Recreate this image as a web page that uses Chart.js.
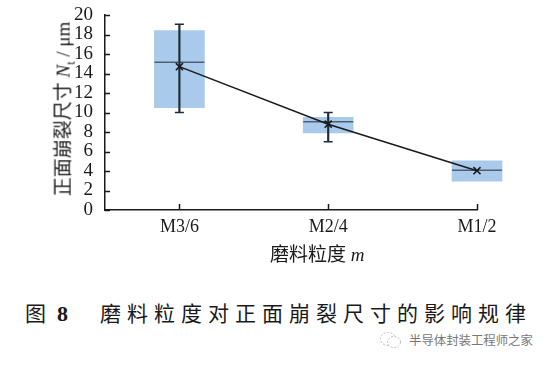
<!DOCTYPE html>
<html>
<head>
<meta charset="utf-8">
<script src="https://cdn.jsdelivr.net/npm/chart.js@4.4.1/dist/chart.umd.min.js"></script>
<style>
  body { margin: 0; background: #fff; width: 556px; height: 370px; position: relative; overflow: hidden; }
  .serif { font-family: "Liberation Serif", "Noto Sans CJK SC", serif; color: #1a1a1a; }
  #ytitle { position: absolute; left: 63px; top: 109px; transform: translate(-50%, -50%) rotate(-90deg);
            white-space: nowrap; font-size: 19px; }
  #xtitle { position: absolute; left: 270px; top: 239px; white-space: nowrap; font-size: 19px; }
  #caption { position: absolute; left: 25px; top: 297px; white-space: nowrap; font-size: 21px; }
  #caption .txt { letter-spacing: 6px; }
  #mark { position: absolute; left: 379px; top: 331px; white-space: nowrap; font-family: "Noto Sans CJK SC", sans-serif;
          font-size: 12.4px; color: #777; display: flex; align-items: center; }
</style>
</head>
<body>
<canvas id="chart" width="556" height="275" style="position:absolute;left:0;top:0"></canvas>
<div id="ytitle" class="serif">正面崩裂尺寸 <i>N</i><sub style="font-size:12px">t</sub> / μm</div>
<div id="xtitle" class="serif">磨料粒度 <i>m</i></div>
<div id="caption" class="serif"><span>图</span><span style="display:inline-block;width:11px"></span><b style="font-size:22px">8</b><span style="display:inline-block;width:32px"></span><span class="txt">磨料粒度对正面崩裂尺寸的影响规律</span></div>
<div id="mark">
  <svg width="24" height="18" viewBox="0 0 24 18" style="margin-right:6px">
    <ellipse cx="9" cy="8" rx="7.5" ry="6.5" fill="none" stroke="#bbb" stroke-width="1" stroke-dasharray="2 1.5"/>
    <ellipse cx="15" cy="11" rx="6.5" ry="5.5" fill="#fff" stroke="#bbb" stroke-width="1" stroke-dasharray="2 1.5"/>
  </svg>
  半导体封装工程师之家
</div>
<script>
const categories = ['M3/6', 'M2/4', 'M1/2'];
const boxLow = [10.5, 7.9, 2.95];
const boxHigh = [18.4, 9.5, 5.05];
const medians = [15.15, 9.05, 4.07];
const means = [14.7, 8.8, 4.03];
const whiskerLow = [10.0, 7.0, null];
const whiskerHigh = [19.05, 10.0, null];
const yTicks = [0, 2, 4, 6, 8, 10, 12, 14, 16, 18, 20];

const ink = '#1a1a1a';

// ticks point into the plot area, like the source figure
const inwardTicks = {
  id: 'inwardTicks',
  afterDraw(chart) {
    const { ctx, scales: { x, y }, chartArea } = chart;
    ctx.save();
    ctx.strokeStyle = ink;
    ctx.lineWidth = 1.5;
    ctx.beginPath();
    yTicks.forEach(v => {
      const py = Math.round(y.getPixelForValue(v)) + 0.5;
      ctx.moveTo(chartArea.left, py);
      ctx.lineTo(chartArea.left + 5, py);
    });
    categories.forEach((c, i) => {
      const px = Math.round(x.getPixelForValue(i)) + 0.5;
      ctx.moveTo(px, chartArea.bottom);
      ctx.lineTo(px, chartArea.bottom - 6);
    });
    ctx.stroke();
    ctx.restore();
  }
};

const boxes = categories.map((c, i) => ({ x: i, y: [boxLow[i], boxHigh[i]] }));
const stems = categories.map((c, i) => ({ x: i, y: whiskerLow[i] == null ? null : [whiskerLow[i], whiskerHigh[i]] }))
  .filter(d => d.y);
const caps = [];
categories.forEach((c, i) => {
  if (whiskerLow[i] == null) return;
  caps.push({ x: i, y: whiskerLow[i] }, { x: i, y: whiskerHigh[i] });
});

new Chart(document.getElementById('chart'), {
  type: 'bar',
  data: {
    datasets: [
      {
        type: 'line',
        data: categories.map((c, i) => ({ x: i, y: means[i] })),
        borderColor: ink,
        borderWidth: 1.5,
        tension: 0,
        pointStyle: 'crossRot',
        pointRadius: 5,
        pointBorderWidth: 1.6,
        pointBorderColor: ink,
        clip: false,
        order: 0
      },
      {
        type: 'scatter',
        data: caps,
        pointStyle: 'line',
        pointRadius: 4.5,
        borderColor: '#1e2b38',
        borderWidth: 1.5,
        clip: false,
        order: 1
      },
      {
        data: stems,
        backgroundColor: '#1e2b38',
        barThickness: 1.5,
        grouped: false,
        clip: false,
        order: 2
      },
      {
        type: 'scatter',
        data: categories.map((c, i) => ({ x: i, y: medians[i] })),
        pointStyle: 'line',
        pointRadius: 25,
        borderColor: '#4d6172',
        borderWidth: 1.5,
        clip: false,
        order: 3
      },
      {
        data: boxes,
        backgroundColor: '#a9caeb',
        borderWidth: 0,
        barThickness: 50,
        grouped: false,
        clip: false,
        order: 4
      }
    ]
  },
  options: {
    responsive: false,
    animation: false,
    // the wide median markers would otherwise push the plot area down (auto padding)
    layout: { autoPadding: false, padding: { top: 15, right: 79, left: 0, bottom: 0 } },
    plugins: { legend: { display: false }, tooltip: { enabled: false } },
    scales: {
      x: {
        type: 'linear',
        offset: false,
        min: -0.5,
        max: 2,
        afterBuildTicks: s => { s.ticks = categories.map((c, i) => ({ value: i })); },
        afterFit: s => { s.height = 65; s.paddingLeft = 0; s.paddingRight = 0; },
        grid: { display: false },
        border: { display: true, color: ink, width: 1.5 },
        ticks: {
          autoSkip: false,
          maxRotation: 0,
          padding: -2,
          color: ink,
          font: { family: 'Liberation Serif', size: 18 },
          callback: v => categories[v]
        }
      },
      y: {
        min: 0,
        max: 20,
        afterBuildTicks: s => { s.ticks = yTicks.map(v => ({ value: v })); },
        afterFit: s => { s.width = 105; s.paddingTop = 0; s.paddingBottom = 0; },
        grid: { display: false },
        border: { display: true, color: ink, width: 1.5 },
        ticks: {
          autoSkip: false,
          padding: 4,
          color: ink,
          font: { family: 'Liberation Serif', size: 19 }
        }
      }
    }
  },
  plugins: [inwardTicks]
});
</script>
</body>
</html>
